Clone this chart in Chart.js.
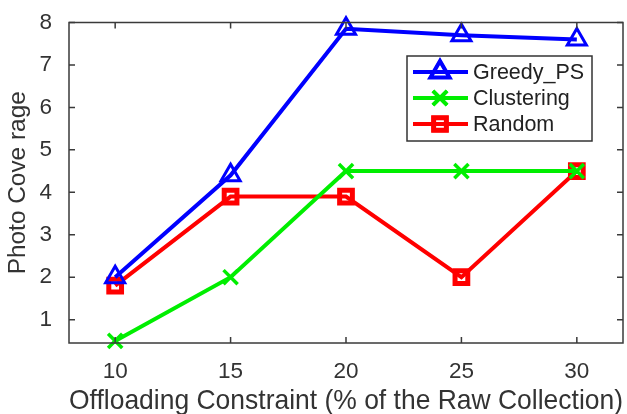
<!DOCTYPE html>
<html><head><meta charset="utf-8">
<script src="https://cdn.jsdelivr.net/npm/chart.js@4"></script>
<style>html,body{margin:0;padding:0;background:#fff}#wrap{width:627px;height:414px}</style>
</head><body><div id="wrap"><canvas id="c" width="627" height="414"></canvas></div>
<script>
const categories = [10, 15, 20, 25, 30];
const greedyPS = [2.0, 4.4, 7.85, 7.7, 7.6];
const clustering = [0.5, 2.0, 4.5, 4.5, 4.5];
const randomSel = [1.8, 3.9, 3.9, 2.0, 4.5];
const yTicks = [1, 2, 3, 4, 5, 6, 7, 8];
const seriesNames = ['Greedy_PS', 'Clustering', 'Random'];

const toPts = arr => arr.map((v, i) => ({x: categories[i], y: v}));
const FONT = '"Liberation Sans", Arial, sans-serif';

const framePlugin = {
  id: 'frame',
  afterDraw(chart) {
    const {ctx, chartArea: a, scales: {x, y}} = chart;
    ctx.save();
    ctx.strokeStyle = '#3a3a3a';
    ctx.lineWidth = 1.5;
    ctx.strokeRect(a.left, a.top, a.right - a.left, a.bottom - a.top);
    ctx.beginPath();
    const tl = 6;
    categories.forEach(v => {
      const px = x.getPixelForValue(v);
      ctx.moveTo(px, a.bottom); ctx.lineTo(px, a.bottom - tl);
      ctx.moveTo(px, a.top); ctx.lineTo(px, a.top + tl);
    });
    yTicks.forEach(v => {
      const py = y.getPixelForValue(v);
      ctx.moveTo(a.left, py); ctx.lineTo(a.left + tl, py);
      ctx.moveTo(a.right, py); ctx.lineTo(a.right - tl, py);
    });
    ctx.stroke();
    // legend
    const lx = 407, ly = 56, lw = 185, lh = 85;
    ctx.fillStyle = '#fff';
    ctx.fillRect(lx, ly, lw, lh);
    ctx.strokeStyle = '#333';
    ctx.lineWidth = 1.5;
    ctx.strokeRect(lx, ly, lw, lh);
    ctx.font = '21.5px ' + FONT;
    ctx.textBaseline = 'middle';
    chart.data.datasets.forEach((ds, i) => {
      const cy = ly + 16 + i * 26;
      ctx.strokeStyle = ds.borderColor;
      ctx.lineWidth = 4;
      ctx.beginPath(); ctx.moveTo(lx + 6, cy); ctx.lineTo(lx + 61, cy); ctx.stroke();
      ctx.fillStyle = 'rgba(0,0,0,0)';
      Chart.helpers.drawPoint(ctx, {pointStyle: ds.pointStyle, radius: ds.pointRadius, borderWidth: ds.pointBorderWidth, rotation: 0}, lx + 33, cy);
      ctx.lineWidth = ds.pointBorderWidth;
      ctx.stroke();
      ctx.fillStyle = '#222';
      ctx.fillText(ds.label, lx + 66, cy + 1);
    });
    ctx.restore();
  }
};

new Chart(document.getElementById('c'), {
  type: 'line',
  data: {
    datasets: [
      {label: seriesNames[0], data: toPts(greedyPS), borderColor: '#0000ff', pointBorderColor: '#0000ff', pointBackgroundColor: 'rgba(0,0,0,0)', pointStyle: 'triangle', pointRadius: 11, pointBorderWidth: 3, borderWidth: 4, clip: false},
      {label: seriesNames[1], data: toPts(clustering), borderColor: '#00ee00', pointBorderColor: '#00ee00', pointBackgroundColor: 'rgba(0,0,0,0)', pointStyle: 'crossRot', pointRadius: 10, pointBorderWidth: 3.5, borderWidth: 4, clip: false},
      {label: seriesNames[2], data: toPts(randomSel), borderColor: '#ff0000', pointBorderColor: '#ff0000', pointBackgroundColor: 'rgba(0,0,0,0)', pointStyle: 'rect', pointRadius: 9, pointBorderWidth: 5, borderWidth: 4, clip: false}
    ]
  },
  options: {
    responsive: false,
    animation: false,
    devicePixelRatio: 1,
    layout: {autoPadding: false, padding: {top: 20, right: 4, left: 0, bottom: 0}},
    plugins: {legend: {display: false}, tooltip: {enabled: false}},
    scales: {
      x: {
        type: 'linear', min: 8, max: 32,
        afterBuildTicks: s => { s.ticks = categories.map(v => ({value: v})); },
        afterFit: s => { s.height = 71; s.paddingRight = 0; s.paddingLeft = 0; },
        grid: {display: false}, border: {display: false},
        ticks: {color: '#333', font: {family: FONT, size: 22.5}, padding: 7, maxRotation: 0},
        title: {display: true, text: 'Offloading Constraint (% of the Raw Collection)', color: '#333', font: {family: FONT, size: 28.5}, padding: {top: 0, bottom: -4}}
      },
      y: {
        min: 0.45, max: 8,
        afterBuildTicks: s => { s.ticks = yTicks.map(v => ({value: v})); },
        afterFit: s => { s.width = 69; },
        grid: {display: false}, border: {display: false},
        ticks: {color: '#333', font: {family: FONT, size: 22.5}, padding: 9},
        title: {display: true, text: 'Photo Cove rage', color: '#333', font: {family: FONT, size: 24.4}, padding: {bottom: 0}}
      }
    }
  },
  plugins: [framePlugin]
});
</script></body></html>
